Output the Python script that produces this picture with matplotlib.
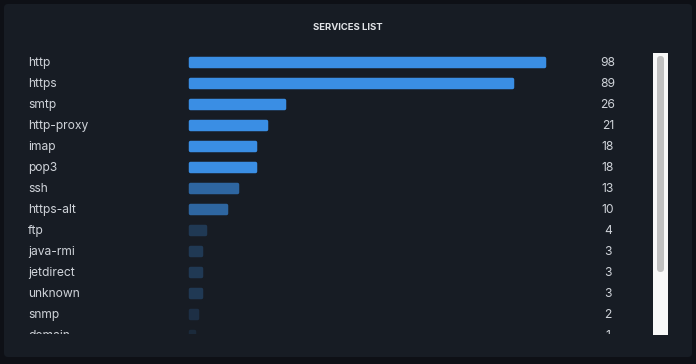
import matplotlib.pyplot as plt
from matplotlib.colors import to_rgb
from matplotlib.patches import FancyBboxPatch

services = ["http", "https", "smtp", "http-proxy", "imap", "pop3", "ssh",
            "https-alt", "ftp", "java-rmi", "jetdirect", "unknown", "snmp", "domain"]
counts = [98, 89, 26, 21, 18, 18, 13, 10, 4, 3, 3, 3, 2, 1]

W, H = 696, 364
BG = "#0e1016"
PANEL = "#171c24"
BAR = "#3a8ee4"
TEXT = "#cfd3d9"

plt.rcParams["font.family"] = ["Inter", "DejaVu Sans"]


def bar_alpha(v):
    if v >= 15:
        return 1.0
    if v >= 10:
        return 0.65
    if v >= 3:
        return 0.25
    if v >= 2:
        return 0.17
    return 0.12


def bar_color(v):
    a = bar_alpha(v)
    c, p = to_rgb(BAR), to_rgb(PANEL)
    return tuple(a * ci + (1 - a) * pi for ci, pi in zip(c, p))


fig = plt.figure(figsize=(W / 100, H / 100), dpi=100, facecolor=BG)

# background axes in pixel coordinates
bg = fig.add_axes([0, 0, 1, 1])
bg.set_xlim(0, W)
bg.set_ylim(H, 0)
bg.axis("off")
bg.add_patch(FancyBboxPatch((4, 4), 688, 353, boxstyle="round,pad=0,rounding_size=4",
                            fc=PANEL, ec="none"))
bg.text(348, 27.5, "SERVICES LIST", ha="center", va="center", color="#e2e4e8",
        fontsize=6.8, fontweight="bold")

# scrollbar
bg.add_patch(plt.Rectangle((653, 53), 15, 282, fc="#f8f8f8", ec="none"))
bg.add_patch(FancyBboxPatch((657, 56), 7, 216, boxstyle="round,pad=0,rounding_size=3.5",
                            fc="#c1c1c1", ec="none"))

# list area: rows at 62 + 21*i px, clipped between 50 and 334 px
top_px, bot_px = 50, 334
row0, step = 62, 21
scale = (357 - 3.0) / 98
x0 = 189 + 1.2
ax = fig.add_axes([0, 1 - bot_px / H, 1, (bot_px - top_px) / H])
ax.set_xlim(-x0 / scale, (W - x0) / scale)
ax.set_ylim((bot_px - row0) / step, (top_px - row0) / step)
ax.axis("off")
ax.patch.set_alpha(0)

ypos = list(range(len(services)))
for y, name, v in zip(ypos, services, counts):
    col = bar_color(v)
    ax.barh(y, v, height=8.5 / step, color=col, ec=col, lw=2.5, joinstyle="round")
    ax.text(28 / W, y + 0.04, name, transform=ax.get_yaxis_transform(), ha="left",
            va="center", color=TEXT, fontsize=8.7, clip_on=True)
    ax.text(608 / W, y + 0.04, str(v), transform=ax.get_yaxis_transform(), ha="center",
            va="center", color=TEXT, fontsize=8.7, clip_on=True)

fig.savefig("out.png", dpi=100, facecolor=BG)
